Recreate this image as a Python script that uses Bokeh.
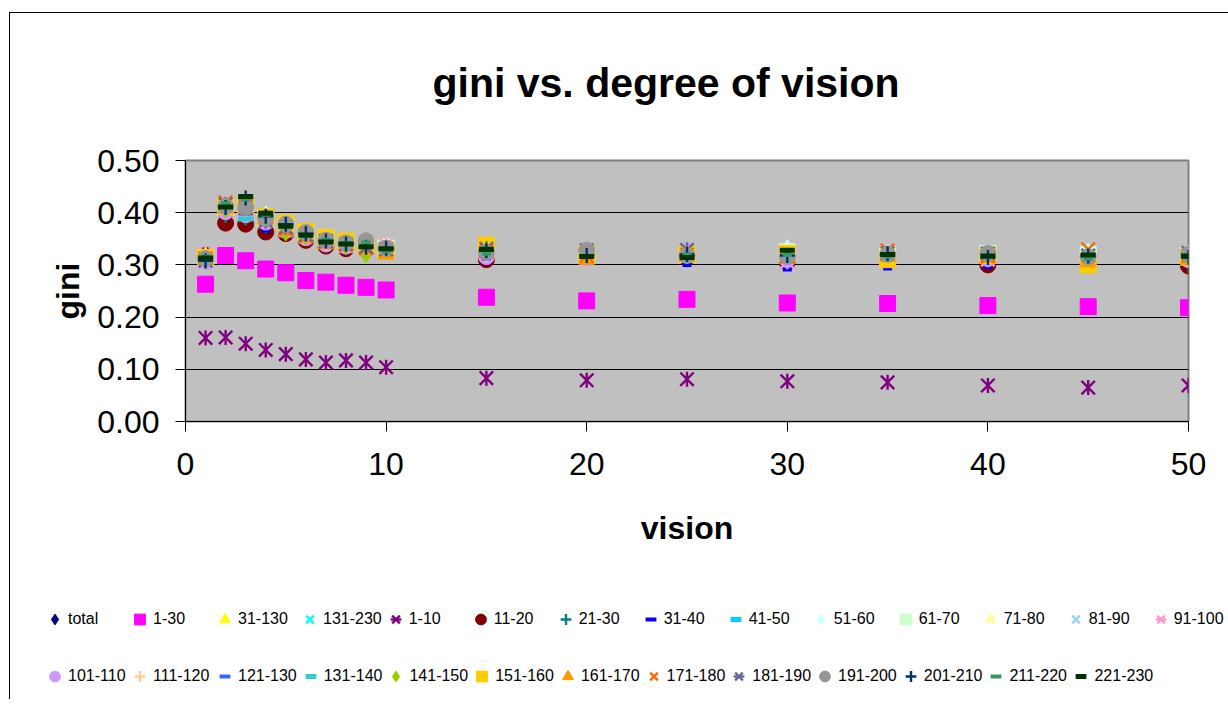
import math
from bokeh.plotting import figure
from bokeh.models import (ColumnDataSource, Legend, LegendItem, FixedTicker,
                          PrintfTickFormatter, Range1d)
from bokeh.embed import file_html
from bokeh.resources import INLINE

# ---------------- data ----------------
vision = [1, 2, 3, 4, 5, 6, 7, 8, 9, 10, 15, 20, 25, 30, 35, 40, 45, 50]

x_ticks = [0, 10, 20, 30, 40, 50]
y_ticks = [0.0, 0.1, 0.2, 0.3, 0.4, 0.5]

total    = [0.310, 0.405, 0.410, 0.385, 0.372, 0.358, 0.346, 0.339, 0.335, 0.330, 0.323, 0.318, 0.318, 0.316, 0.315, 0.312, 0.314, 0.311]
g1_30    = [0.263, 0.318, 0.308, 0.292, 0.285, 0.270, 0.267, 0.261, 0.257, 0.252, 0.238, 0.231, 0.234, 0.227, 0.226, 0.222, 0.220, 0.218]
g31_130  = [0.312, 0.410, 0.415, 0.390, 0.375, 0.360, 0.348, 0.341, 0.336, 0.331, 0.327, 0.320, 0.320, 0.320, 0.318, 0.316, 0.318, 0.315]
g131_230 = [0.310, 0.408, 0.412, 0.388, 0.373, 0.359, 0.347, 0.340, 0.335, 0.330, 0.324, 0.319, 0.319, 0.318, 0.317, 0.314, 0.316, 0.313]
g1_10    = [0.160, 0.161, 0.149, 0.137, 0.129, 0.119, 0.113, 0.117, 0.113, 0.104, 0.083, 0.079, 0.081, 0.077, 0.075, 0.069, 0.065, 0.069]
g11_20   = [0.318, 0.380, 0.378, 0.363, 0.360, 0.347, 0.336, 0.331, 0.330, 0.329, 0.310, 0.318, 0.314, 0.305, 0.315, 0.300, 0.303, 0.298]
g21_30   = [0.305, 0.395, 0.390, 0.375, 0.368, 0.352, 0.342, 0.334, 0.330, 0.326, 0.318, 0.313, 0.310, 0.312, 0.305, 0.310, 0.312, 0.300]
g31_40   = [0.300, 0.400, 0.392, 0.366, 0.362, 0.350, 0.337, 0.335, 0.330, 0.325, 0.304, 0.312, 0.300, 0.291, 0.293, 0.296, 0.291, 0.302]
g41_50   = [0.312, 0.405, 0.400, 0.380, 0.370, 0.355, 0.345, 0.338, 0.334, 0.330, 0.322, 0.320, 0.318, 0.320, 0.315, 0.318, 0.316, 0.310]
g51_60   = [0.318, 0.415, 0.405, 0.392, 0.378, 0.362, 0.350, 0.343, 0.338, 0.337, 0.335, 0.326, 0.325, 0.332, 0.322, 0.320, 0.325, 0.322]
g61_70   = [0.314, 0.412, 0.410, 0.388, 0.372, 0.360, 0.352, 0.340, 0.336, 0.334, 0.330, 0.322, 0.320, 0.325, 0.318, 0.322, 0.320, 0.318]
g71_80   = [0.316, 0.404, 0.402, 0.395, 0.376, 0.356, 0.344, 0.338, 0.332, 0.335, 0.328, 0.318, 0.322, 0.322, 0.316, 0.317, 0.314, 0.316]
g81_90   = [0.312, 0.420, 0.415, 0.384, 0.370, 0.358, 0.346, 0.342, 0.334, 0.332, 0.326, 0.324, 0.328, 0.316, 0.320, 0.315, 0.318, 0.320]
g91_100  = [0.322, 0.408, 0.398, 0.386, 0.366, 0.354, 0.348, 0.336, 0.330, 0.338, 0.320, 0.316, 0.324, 0.306, 0.314, 0.310, 0.316, 0.312]
g101_110 = [0.306, 0.402, 0.396, 0.382, 0.366, 0.352, 0.340, 0.336, 0.330, 0.328, 0.316, 0.314, 0.326, 0.310, 0.316, 0.312, 0.314, 0.310]
g111_120 = [0.318, 0.406, 0.404, 0.386, 0.368, 0.356, 0.342, 0.340, 0.334, 0.331, 0.320, 0.318, 0.316, 0.314, 0.312, 0.316, 0.313, 0.312]
g121_130 = [0.308, 0.404, 0.398, 0.378, 0.364, 0.350, 0.338, 0.333, 0.329, 0.326, 0.312, 0.314, 0.312, 0.308, 0.303, 0.312, 0.306, 0.309]
g131_140 = [0.310, 0.410, 0.388, 0.384, 0.370, 0.356, 0.344, 0.338, 0.332, 0.328, 0.322, 0.318, 0.316, 0.318, 0.312, 0.314, 0.316, 0.304]
g141_150 = [0.308, 0.406, 0.410, 0.386, 0.362, 0.354, 0.346, 0.336, 0.320, 0.330, 0.325, 0.320, 0.318, 0.316, 0.314, 0.318, 0.315, 0.314]
g151_160 = [0.314, 0.412, 0.414, 0.392, 0.380, 0.364, 0.352, 0.346, 0.336, 0.327, 0.338, 0.322, 0.320, 0.322, 0.310, 0.318, 0.300, 0.315]
g161_170 = [0.310, 0.408, 0.406, 0.388, 0.366, 0.352, 0.340, 0.336, 0.330, 0.320, 0.324, 0.310, 0.316, 0.312, 0.316, 0.314, 0.305, 0.310]
g171_180 = [0.312, 0.420, 0.412, 0.390, 0.368, 0.355, 0.344, 0.338, 0.332, 0.329, 0.326, 0.318, 0.320, 0.316, 0.328, 0.316, 0.330, 0.318]
g181_190 = [0.308, 0.416, 0.408, 0.384, 0.372, 0.358, 0.346, 0.340, 0.334, 0.330, 0.331, 0.328, 0.329, 0.318, 0.322, 0.322, 0.318, 0.323]
g191_200 = [0.312, 0.412, 0.410, 0.390, 0.378, 0.362, 0.347, 0.342, 0.346, 0.332, 0.324, 0.328, 0.318, 0.316, 0.320, 0.322, 0.316, 0.320]
g201_210 = [0.308, 0.410, 0.428, 0.393, 0.378, 0.360, 0.346, 0.340, 0.334, 0.332, 0.327, 0.318, 0.320, 0.318, 0.322, 0.314, 0.317, 0.314]
g211_220 = [0.316, 0.418, 0.426, 0.396, 0.374, 0.356, 0.348, 0.342, 0.343, 0.326, 0.322, 0.316, 0.320, 0.319, 0.316, 0.316, 0.312, 0.318]
g221_230 = [0.313, 0.411, 0.431, 0.399, 0.374, 0.357, 0.344, 0.340, 0.335, 0.331, 0.330, 0.316, 0.314, 0.328, 0.320, 0.317, 0.319, 0.317]

labels = ["total", "1-30", "31-130", "131-230", "1-10", "11-20", "21-30",
          "31-40", "41-50", "51-60", "61-70", "71-80", "81-90", "91-100",
          "101-110", "111-120", "121-130", "131-140", "141-150", "151-160",
          "161-170", "171-180", "181-190", "191-200", "201-210", "211-220", "221-230"]
series = [total, g1_30, g31_130, g131_230, g1_10, g11_20, g21_30,
          g31_40, g41_50, g51_60, g61_70, g71_80, g81_90, g91_100,
          g101_110, g111_120, g121_130, g131_140, g141_150, g151_160,
          g161_170, g171_180, g181_190, g191_200, g201_210, g211_220, g221_230]
colors = ["#000080", "#FF00FF", "#FFFF00", "#00FFFF", "#800080", "#800000", "#008080",
          "#0000FF", "#00CCFF", "#CCFFFF", "#CCFFCC", "#FFFF99", "#99CCFF", "#FF99CC",
          "#CC99FF", "#FFCC99", "#3366FF", "#33CCCC", "#99CC00", "#FFCC00",
          "#FF9900", "#FF6600", "#666699", "#969696", "#003366", "#339966", "#003300"]
markers = ["diamond", "square", "triangle", "x", "star", "circle", "cross",
           "dash_s", "dash_l", "diamond", "square", "triangle", "x", "star",
           "circle", "cross", "dash_s", "dash_l", "diamond", "square",
           "triangle", "x", "star", "circle", "cross", "dash_s", "dash_l"]

FONT = "Liberation Sans"
W = 1228

p = figure(width=W, height=570, output_backend="svg", toolbar_location=None,
           x_range=Range1d(0, 50), y_range=Range1d(0, 0.5),
           min_border_left=185, min_border_right=40, min_border_top=160, min_border_bottom=149,
           background_fill_color="#C0C0C0", border_fill_alpha=0,
           outline_line_color="#808080", outline_line_width=2,
           title="gini vs. degree of vision")
# outer chart border (left and top lines of the chart area)
p.styles = {
    "background": "linear-gradient(#000, #000) 9px 12px / 1px 100% no-repeat, "
                  "linear-gradient(#000, #000) 9px 12px / 100% 1px no-repeat, white"
}

p.title.text_font = FONT
p.title.text_font_size = "41px"
p.title.text_font_style = "bold"
p.title.text_color = "black"
p.title.align = "left"
p.title.offset = 247
p.title.standoff = 109

# axes
p.xaxis.ticker = FixedTicker(ticks=x_ticks)
p.yaxis.ticker = FixedTicker(ticks=y_ticks)
p.yaxis.formatter = PrintfTickFormatter(format="%.2f")
for ax in (p.xaxis, p.yaxis):
    ax.axis_line_color = "black"
    ax.axis_line_width = 1
    ax.major_tick_line_color = "black"
    ax.major_tick_out = 10
    ax.major_tick_in = 0
    ax.minor_tick_line_color = None
    ax.major_label_text_font = FONT
    ax.major_label_text_font_size = "32px"
    ax.major_label_text_color = "black"
    ax.axis_label_text_font = FONT
    ax.axis_label_text_font_size = "32px"
    ax.axis_label_text_font_style = "bold"
    ax.axis_label_text_color = "black"
p.xaxis.axis_label = "vision"
p.yaxis.axis_label = "gini"
p.xaxis.major_label_standoff = 21
p.yaxis.major_label_standoff = 16
p.xaxis.axis_label_standoff = 32
p.yaxis.axis_label_standoff = 8

p.xgrid.grid_line_color = None
p.ygrid.grid_line_color = "black"
p.ygrid.grid_line_width = 1

# legend strip: a second, axis-less figure placed directly below the chart.
# Its ranges lie above all data, so its proxy renderers show nothing in the strip
# and only serve to draw the legend glyphs.
leg = figure(width=W, height=129, output_backend="svg", toolbar_location=None,
             x_range=Range1d(0, 50), y_range=Range1d(10, 11),
             x_axis_location=None, y_axis_location=None,
             min_border_left=0, min_border_right=0, min_border_top=0, min_border_bottom=0,
             background_fill_alpha=0, border_fill_alpha=0, outline_line_color=None)
leg.xgrid.visible = False
leg.ygrid.visible = False
leg.styles = {
    "background": "linear-gradient(#000, #000) 9px 0px / 1px 100% no-repeat, white"
}


def add_series(fig, src, col, mk):
    if mk == "dash_s":
        return [fig.scatter("x", "y", source=src, marker="dash", size=9, line_width=4, line_color=col)]
    if mk == "dash_l":
        return [fig.scatter("x", "y", source=src, marker="dash", size=15, line_width=5, line_color=col)]
    if mk == "x":
        return [fig.scatter("x", "y", source=src, marker="x", size=19, line_width=2.4, line_color=col)]
    if mk == "star":
        r1 = fig.scatter("x", "y", source=src, marker="x", size=19, line_width=2.4, line_color=col)
        r2 = fig.scatter("x", "y", source=src, marker="dash", angle=math.pi / 2, size=15,
                         line_width=2.4, line_color=col)
        return [r1, r2]
    if mk == "cross":
        return [fig.scatter("x", "y", source=src, marker="cross", size=15, line_width=2.4, line_color=col)]
    if mk == "diamond":
        return [fig.scatter("x", "y", source=src, marker=mk, size=17, fill_color=col, line_color=col)]
    return [fig.scatter("x", "y", source=src, marker=mk, size=16, fill_color=col, line_color=col)]


items = []
for lab, ys, col, mk in zip(labels, series, colors, markers):
    src = ColumnDataSource(dict(x=vision, y=ys))
    add_series(p, src, col, mk)
    proxy = add_series(leg, src, col, mk)
    items.append(LegendItem(label=lab, renderers=proxy))


def make_legend(its, vy):
    return Legend(items=its, location=(41, vy), orientation="horizontal",
                  glyph_width=27, glyph_height=30, label_standoff=0,
                  label_width=58, label_height=30, spacing=0, padding=0, margin=0,
                  label_text_font=FONT, label_text_font_size="16px",
                  label_text_color="black",
                  background_fill_alpha=0, border_line_alpha=0)


leg.add_layout(make_legend(items[:14], 65))
leg.add_layout(make_legend(items[14:], 8))

open("out.html", "w").write(file_html([p, leg], INLINE))
